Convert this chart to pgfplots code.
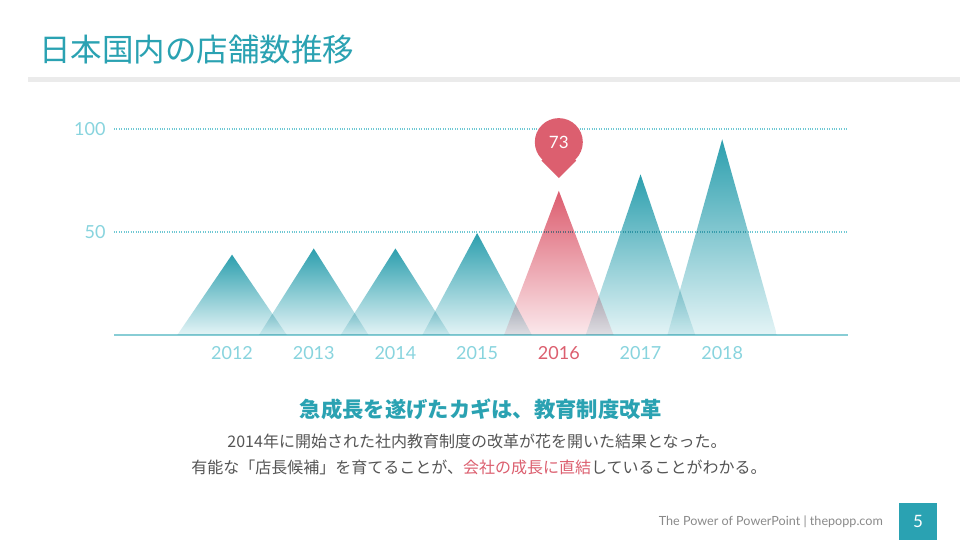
\documentclass[border=0pt]{standalone}
\usepackage{fontspec}
\setmainfont{Lato}
\newfontfamily\jp{Noto Sans CJK JP}
\usepackage{pgfplots}
\pgfplotsset{compat=1.18}
\usetikzlibrary{shapes.geometric}

\definecolor{teal}{HTML}{2AA2B2}
\definecolor{tealtop}{HTML}{2C9FAE}
\definecolor{tealbot}{HTML}{E4F4F6}
\definecolor{redtop}{HTML}{DC5C6E}
\definecolor{redbot}{HTML}{FBE9EC}
\definecolor{pinred}{HTML}{DC5F6F}
\definecolor{ticklbl}{HTML}{88D4DE}
\definecolor{gridc}{HTML}{6FC8D3}
\definecolor{basec}{HTML}{88CDD5}
\definecolor{bodytxt}{HTML}{555555}
\definecolor{footgray}{HTML}{8A8A8A}
\definecolor{bargray}{HTML}{EBEBEB}

\begin{document}
\begin{tikzpicture}[x=1pt,y=1pt]
% slide frame 960 x 540
\fill[white] (0,0) rectangle (960,540);
\node[anchor=west, inner sep=0pt, text=teal, font=\jp\fontsize{31.5}{31.5}\selectfont] at (39,490) {日本国内の店舗数推移};
\fill[bargray] (28,458) rectangle (960,463);

\begin{axis}[
    at={(114pt,205pt)}, anchor=south west,
    scale only axis, width=734pt, height=206pt,
    xmin=2010.555, xmax=2019.54,
    ymin=0, ymax=100,
    clip=false,
    axis lines*=left,
    y axis line style={draw=none},
    x axis line style={color=basec, line width=1.2pt},
    major tick length=0pt,
    xtick={2012,2013,2014,2015,2016,2017,2018},
    xticklabels={2012,2013,2014,2015,\textcolor{pinred}{2016},2017,2018},
    ytick={50,100},
    yticklabels={50,100},
    ymajorgrids=true,
    grid style={dotted, color=gridc, line width=1.3pt},
    tick label style={font=\fontsize{18}{18}\selectfont, text=ticklbl},
    xticklabel style={yshift=-8pt},
    yticklabel style={xshift=-5pt},
]
% store numbers per year, drawn as triangles
\addplot[draw=none, blend mode=multiply, top color=tealtop, bottom color=tealbot] coordinates {(2011.33,0) (2012,39) (2012.67,0)} --cycle;
\addplot[draw=none, blend mode=multiply, top color=tealtop, bottom color=tealbot] coordinates {(2012.33,0) (2013,42) (2013.67,0)} --cycle;
\addplot[draw=none, blend mode=multiply, top color=tealtop, bottom color=tealbot] coordinates {(2013.33,0) (2014,42) (2014.67,0)} --cycle;
\addplot[draw=none, blend mode=multiply, top color=tealtop, bottom color=tealbot] coordinates {(2014.33,0) (2015,49.5) (2015.67,0)} --cycle;
\addplot[draw=none, blend mode=multiply, top color=redtop, bottom color=redbot] coordinates {(2015.33,0) (2016,70) (2016.67,0)} --cycle;
\addplot[draw=none, blend mode=multiply, top color=tealtop, bottom color=tealbot] coordinates {(2016.33,0) (2017,78) (2017.67,0)} --cycle;
\addplot[draw=none, blend mode=multiply, top color=tealtop, bottom color=tealbot] coordinates {(2017.33,0) (2018,95) (2018.67,0)} --cycle;

% callout pin for 2016
\addplot[draw=none, mark=none, nodes near coords={},
  every node near coord/.style={diamond, fill=pinred, inner sep=0pt, minimum width=35pt, minimum height=35pt, anchor=center, yshift=24pt}]
  coordinates {(2016,73)};
\addplot[draw=none, mark=none, nodes near coords={73},
  every node near coord/.style={circle, fill=pinred, inner sep=0pt, minimum size=48pt, anchor=center, yshift=42.5pt, text=white, font=\fontsize{17}{17}\selectfont}]
  coordinates {(2016,73)};
\end{axis}

\node[text=teal, font=\jp\bfseries\fontsize{21.3}{21.3}\selectfont] at (481,131) {急成長を遂げたカギは、教育制度改革};
\node[text=bodytxt, font=\jp\fontsize{16}{16}\selectfont] at (477,99) {2014年に開始された社内教育制度の改革が花を開いた結果となった。};
\node[text=bodytxt, font=\jp\fontsize{16}{16}\selectfont] at (479,73) {有能な「店長候補」を育てることが、\textcolor{pinred}{会社の成長に直結}していることがわかる。};

\node[anchor=east, inner sep=0pt, text=footgray, font=\fontsize{12.6}{12.6}\selectfont] at (883,18) {The Power of PowerPoint | thepopp.com};
\fill[teal] (899,0) rectangle (937,37);
\node[text=white, font=\fontsize{17}{17}\selectfont] at (918,19) {5};
\end{tikzpicture}
\end{document}
